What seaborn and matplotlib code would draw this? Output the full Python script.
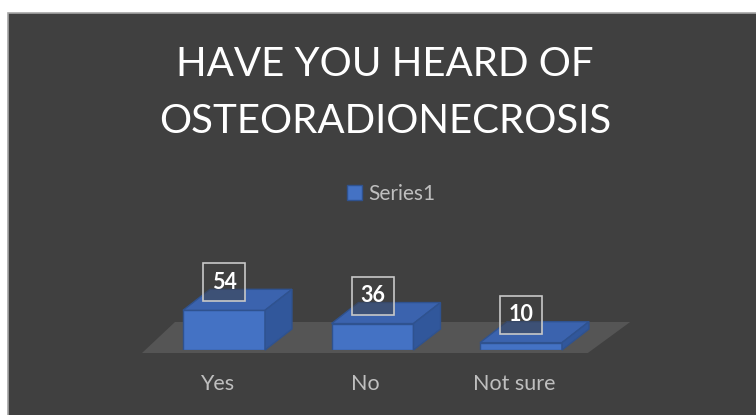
import pandas as pd
import matplotlib.pyplot as plt
import matplotlib.transforms as mtransforms
from matplotlib.patches import Polygon, Rectangle
import seaborn as sns

# chart data
answers = ['Yes', 'No', 'Not sure']
counts = [54, 36, 10]
series_name = 'Series1'
title_text = 'HAVE YOU HEARD OF\nOSTEORADIONECROSIS'

df = pd.DataFrame({'answer': answers, 'count': counts, 'series': series_name})

# colours
bg = '#404040'
front_col = '#4472c4'
top_col = '#3b63ae'
side_col = '#31579b'
edge_col = '#2f528f'
text_col = '#bfbfbf'

sns.set_theme(style='white')
plt.rcParams['font.family'] = ['Lato', 'DejaVu Sans']

W, H = 756, 415
fig = plt.figure(figsize=(W / 100, H / 100), dpi=100, facecolor='white')

# dark chart panel with thin grey border
fig.patches.append(Rectangle((8 / W, -0.01), 1.0, 1 - 13 / H + 0.01, transform=fig.transFigure,
                             facecolor=bg, edgecolor='#a6a6a6', linewidth=1.2, zorder=-5))

ax = fig.add_axes([149.75 / W, 65 / H, 445.5 / W, 44.1 / H])
ax.set_facecolor('none')

sns.barplot(data=df, x='answer', y='count', hue='series', palette=[front_col],
            width=0.552, saturation=1, edgecolor=edge_col, linewidth=1, ax=ax, zorder=3)
ax.set_xlim(-0.5, 2.5)
ax.set_ylim(0, 60)
for s in ax.spines.values():
    s.set_visible(False)
ax.set_yticks([])
ax.set_xlabel('')
ax.set_ylabel('')
ax.tick_params(axis='x', length=0, pad=17, labelsize=15.5, labelcolor=text_col)
shift = mtransforms.ScaledTranslation(-7 / 100, 0, fig.dpi_scale_trans)
for lab in ax.get_xticklabels():
    lab.set_transform(lab.get_transform() + shift)

ident = mtransforms.IdentityTransform()
dx, dy = 27, 21  # depth of the 3d boxes in pixels

# floor
_, y0 = ax.transData.transform((0, 0))
bl = ax.transData.transform((-0.552, 0))[0]
br = ax.transData.transform((2.45, 0))[0]
tl = ax.transData.transform((-0.33, 0))[0]
tr = ax.transData.transform((2.735, 0))[0]
ax.add_patch(Polygon([(bl, y0 - 3), (br, y0 - 3), (tr, y0 + 28), (tl, y0 + 28)],
                     closed=True, transform=ident, facecolor='#555555', edgecolor='none',
                     zorder=1, clip_on=False))

for p, val in zip(ax.patches[:len(counts)], counts):
    x0 = p.get_x()
    x1 = x0 + p.get_width()
    X0, Y0 = ax.transData.transform((x0, 0))
    X1, YH = ax.transData.transform((x1, p.get_height()))
    top = [(X0, YH), (X1, YH), (X1 + dx, YH + dy), (X0 + dx, YH + dy)]
    side = [(X1, Y0), (X1 + dx, Y0 + dy), (X1 + dx, YH + dy), (X1, YH)]
    ax.add_patch(Polygon(top, closed=True, transform=ident, facecolor=top_col,
                         edgecolor=edge_col, linewidth=1, zorder=3, clip_on=False))
    ax.add_patch(Polygon(side, closed=True, transform=ident, facecolor=side_col,
                         edgecolor=edge_col, linewidth=1, zorder=3, clip_on=False))
    # value label box
    cx = (X0 + X1) / 2
    cy = YH + dy + 7
    ax.add_patch(Rectangle((cx - 21, cy - 19), 42, 38, transform=ident,
                           facecolor=(0.25, 0.25, 0.25, 0.5), edgecolor='#c8c8c8',
                           linewidth=1.2, zorder=5, clip_on=False))
    ax.text(cx, cy, str(val), transform=ident, ha='center', va='center',
            fontsize=15.5, fontweight='bold', color='white', zorder=6)

sns.move_legend(ax, 'center', bbox_to_anchor=(391 / W, 1 - 194 / H),
                bbox_transform=fig.transFigure, frameon=False, title=None,
                fontsize=15, handlelength=0.7, handleheight=0.7, handletextpad=0.3,
                labelcolor=text_col)

fig.text(385 / W, 1 - 93 / H, title_text, ha='center', va='center',
         fontsize=29, color='white', linespacing=1.65)

fig.savefig('out.png', dpi=100, facecolor='white')
